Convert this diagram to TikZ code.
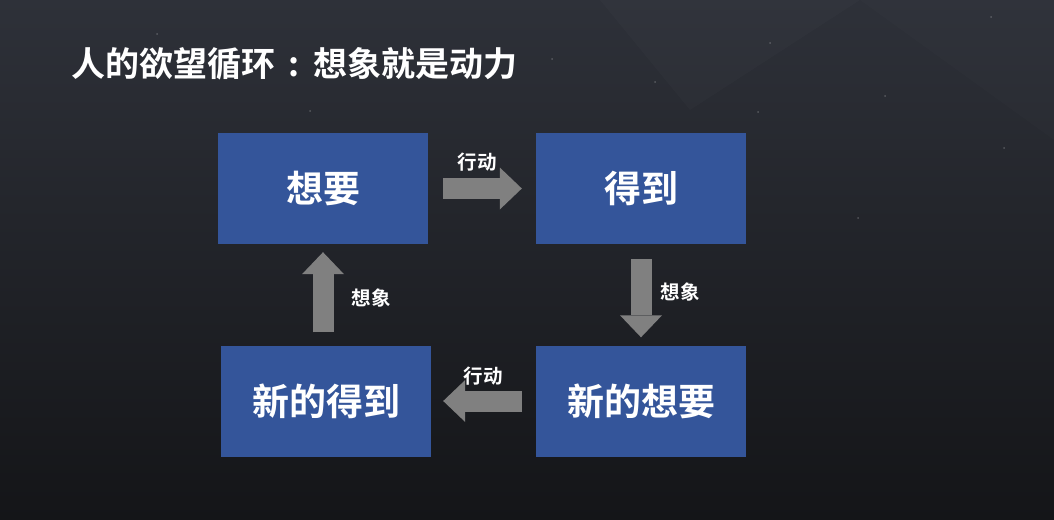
\documentclass[tikz,border=0pt]{standalone}
\usepackage{fontspec}
\setmainfont{Noto Sans CJK SC}[BoldFont={Noto Sans CJK SC Bold}]
\usetikzlibrary{arrows.meta}
\definecolor{boxblue}{HTML}{34559A}
\definecolor{arrowgray}{HTML}{808080}
\definecolor{bgtop}{HTML}{2E3139}
\definecolor{bgbot}{HTML}{141518}
\begin{document}
\begin{tikzpicture}[x=1pt,y=-1pt,
  box/.style={fill=boxblue, text=white, minimum width=210pt, minimum height=111pt, inner sep=0pt,
    font=\bfseries\fontsize{37}{37}\selectfont},
  blockarrow/.style={draw=arrowgray, line width=21pt,
    -{Triangle[width=42pt,length=22pt,line width=0pt]}},
  lbl/.style={text=white, inner sep=0pt, font=\bfseries\fontsize{19.5}{19.5}\selectfont},
  dot/.style={fill=white, opacity=0.22}]
  % background
  \shade[top color=bgtop, bottom color=bgbot] (0,0) rectangle (1054,519);
  \useasboundingbox (0,0) rectangle (1054,519);
  \fill[white, opacity=0.015] (600,0) -- (690,110) -- (860,0) -- cycle;
  \fill[white, opacity=0.012] (860,0) -- (1054,0) -- (1054,140) -- cycle;
  % stars
  \foreach \p in {(157,34),(310,111),(552,59),(655,82),(770,43),(758,112),(885,96),(991,17),(1004,148),(858,218)}
    \fill[dot] \p circle (1pt);
  % title
  \node[anchor=west, text=white, inner sep=0pt, font=\bfseries\fontsize{34}{34}\selectfont]
    (title) at (71,64) {人的欲望循环\makebox[38pt][c]{:}想象就是动力};
  % boxes
  \node[box] (want) at (323,188.5) {想要};
  \node[box] (get) at (641,188.5) {得到};
  \node[box] (newget) at (326,401) {新的得到};
  \node[box] (newwant) at (641,401) {新的想要};
  % arrows
  \draw[blockarrow, shorten <=15pt, shorten >=14pt] (want.east) -- (get.west);
  \draw[blockarrow, shorten <=15pt, shorten >=8pt] (get.south) -- (newwant.north);
  \draw[blockarrow, shorten <=14pt, shorten >=12pt] (newwant.west) -- (newget.east);
  \draw[blockarrow, shorten <=13pt, shorten >=8pt] (newget.north -| want.south) -- (want.south);
  % labels
  \node[lbl] (l1) at (477,162) {行动};
  \node[lbl] (l2) at (680,292) {想象};
  \node[lbl] (l3) at (483,376) {行动};
  \node[lbl] (l4) at (371,298) {想象};
\end{tikzpicture}
\end{document}
